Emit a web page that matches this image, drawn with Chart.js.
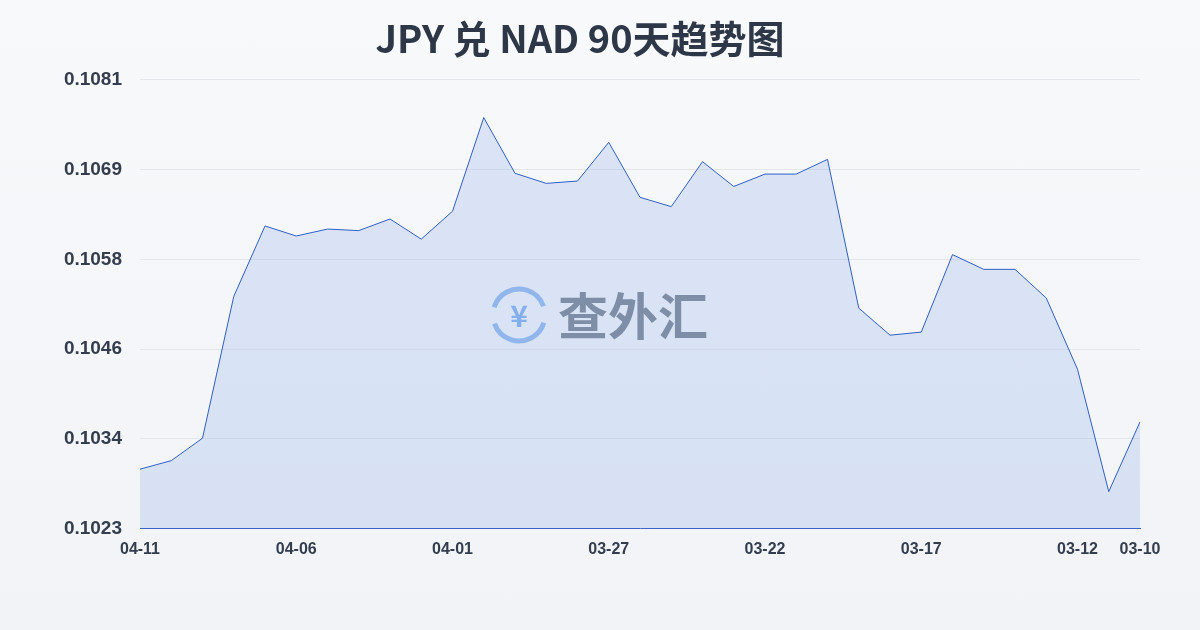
<!DOCTYPE html>
<html><head><meta charset="utf-8">
<script src="https://cdn.jsdelivr.net/npm/chart.js@4/dist/chart.umd.min.js"></script>
<style>
html,body{margin:0;padding:0;width:1200px;height:630px;background:linear-gradient(#f8f9fb,#f1f3f6);font-family:"Noto Sans","Noto Sans CJK SC",sans-serif;}
#wrap{position:absolute;left:0;top:0;width:1200px;height:630px;}
</style></head><body>
<div id="wrap"><canvas id="c" width="1200" height="630"></canvas></div>
<script>
const dates=["04-11","04-10","04-09","04-08","04-07","04-06","04-05","04-04","04-03","04-02","04-01","03-31","03-30","03-29","03-28","03-27","03-26","03-25","03-24","03-23","03-22","03-21","03-20","03-19","03-18","03-17","03-16","03-15","03-14","03-13","03-12","03-11","03-10"];
const rates=[0.10307,0.10318,0.10347,0.10530,0.10621,0.10608,0.10617,0.10615,0.10630,0.10604,0.10640,0.10761,0.10689,0.10676,0.10679,0.10729,0.10658,0.10646,0.10704,0.10672,0.10688,0.10688,0.10707,0.10515,0.10480,0.10484,0.10584,0.10565,0.10565,0.10528,0.10436,0.10278,0.10368];
const shownIdx=[0,5,10,15,20,25,30,32];
const yTickLabels=["0.1023","0.1034","0.1046","0.1058","0.1069","0.1081"];
const yMin=0.1023, yMax=0.1081;
const watermark={id:'wm',beforeDatasetsDraw(ch){const c=ch.ctx;c.save();
 const cx=519,cy=315;c.strokeStyle='rgba(90,150,230,0.6)';c.lineWidth=5;
 c.beginPath();c.arc(cx,cy,26,0.3,2.8);c.stroke();c.beginPath();c.arc(cx,cy,26,3.44,5.94);c.stroke();
 c.fillStyle='rgba(90,150,230,0.7)';c.font='bold 30px "Noto Sans CJK SC"';c.textAlign='center';c.textBaseline='middle';c.fillText('¥',cx,cy+1);
 c.fillStyle='rgba(90,100,115,0.75)';c.font='bold 50px "Noto Sans CJK SC"';c.textAlign='left';c.fillText('查外汇',558,316);c.restore();}};
new Chart(document.getElementById('c'),{type:'line',
data:{labels:dates,datasets:[{data:rates,borderColor:'#2f5fc4',borderWidth:1,backgroundColor:'rgba(120,160,230,0.22)',fill:'start',pointRadius:0,tension:0}]},
options:{responsive:false,animation:false,layout:{padding:{left:20,right:60,top:10,bottom:68}},
plugins:{legend:{display:false},title:{display:true,text:'JPY 兑 NAD 90天趋势图',color:'#2d3748',font:{size:38,weight:'bold',family:'"Noto Sans CJK SC"'},padding:{top:6,bottom:18}}},
scales:{x:{grid:{display:false},border:{color:'#3b5fc0'},ticks:{autoSkip:false,maxRotation:0,color:'#333d4d',font:{size:16,weight:'bold'},callback:(v,i)=>shownIdx.includes(i)?dates[i]:''}},
y:{min:yMin,max:yMax,afterFit(a){a.width=120;},afterBuildTicks(a){a.ticks=[0,1,2,3,4,5].map(k=>({value:yMin+k*(yMax-yMin)/5}));},grid:{color:'#e3e6ea',drawTicks:false},border:{display:false},ticks:{padding:18,color:'#333d4d',font:{size:19,weight:'bold'},callback:(v,i)=>yTickLabels[i]}}}},
plugins:[watermark]});
</script></body></html>
